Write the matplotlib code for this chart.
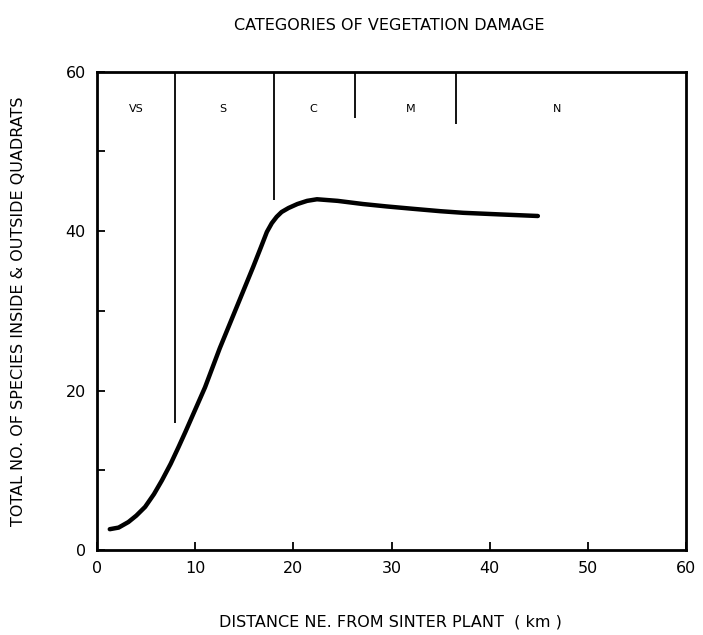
import matplotlib
matplotlib.use("Agg")
import matplotlib.pyplot as plt

# curve
distance_km = [1.3, 2.2, 3.2, 4.0, 4.9, 5.8, 6.6, 7.5, 8.3, 9.0, 10.0, 11.0, 12.5, 14.2, 15.9,
               16.7, 17.3, 17.8, 18.3, 18.8, 19.5, 20.4, 21.4, 22.4, 24.5, 27.1, 29.5, 32.2,
               35.0, 37.3, 41.0, 44.9]
species = [2.6, 2.8, 3.5, 4.3, 5.4, 7.0, 8.7, 10.8, 12.9, 14.8, 17.6, 20.4, 25.3, 30.4, 35.5,
           38.0, 39.9, 41.0, 41.8, 42.4, 42.9, 43.4, 43.8, 44.0, 43.8, 43.4, 43.1, 42.8,
           42.5, 42.3, 42.1, 41.9]

# damage category boundaries: x position and lower end of the line
bound_x = [7.9, 18.0, 26.3, 36.6]
bound_low = [15.9, 43.9, 54.2, 53.4]
cat_labels = ["VS", "S", "C", "M", "N"]
cat_x = [4.0, 12.8, 22.0, 31.9, 46.9]

fig = plt.figure(figsize=(7.03, 6.35), dpi=100)
ax = fig.add_axes([0.138, 0.134, 0.838, 0.753])

ax.plot(distance_km, species, color="black", lw=3.2, solid_capstyle="round",
        solid_joinstyle="round")

for x, lo in zip(bound_x, bound_low):
    ax.vlines(x, lo, 60, color="black", lw=1.3)

for lab, x in zip(cat_labels, cat_x):
    ax.text(x, 55.3, lab, ha="center", va="center", fontsize=8)

ax.set_xlim(0, 60)
ax.set_ylim(0, 60)
ax.set_xticks(range(0, 61, 10))
ax.set_yticks(range(0, 61, 10))
ax.set_yticklabels(["0", "", "20", "", "40", "", "60"])
ax.tick_params(direction="in", length=6, width=1.3, labelsize=11.5, pad=8)
for s in ax.spines.values():
    s.set_linewidth(2)

fig.text(0.553, 0.96, "CATEGORIES OF VEGETATION DAMAGE", ha="center", va="center", fontsize=11.5)
fig.text(0.555, 0.02, "DISTANCE NE. FROM SINTER PLANT  ( km )", ha="center", va="center", fontsize=11.5)
fig.text(0.026, 0.51, "TOTAL NO. OF SPECIES INSIDE & OUTSIDE QUADRATS", rotation=90,
         ha="center", va="center", fontsize=11.5)

fig.savefig("out.png", dpi=100)
